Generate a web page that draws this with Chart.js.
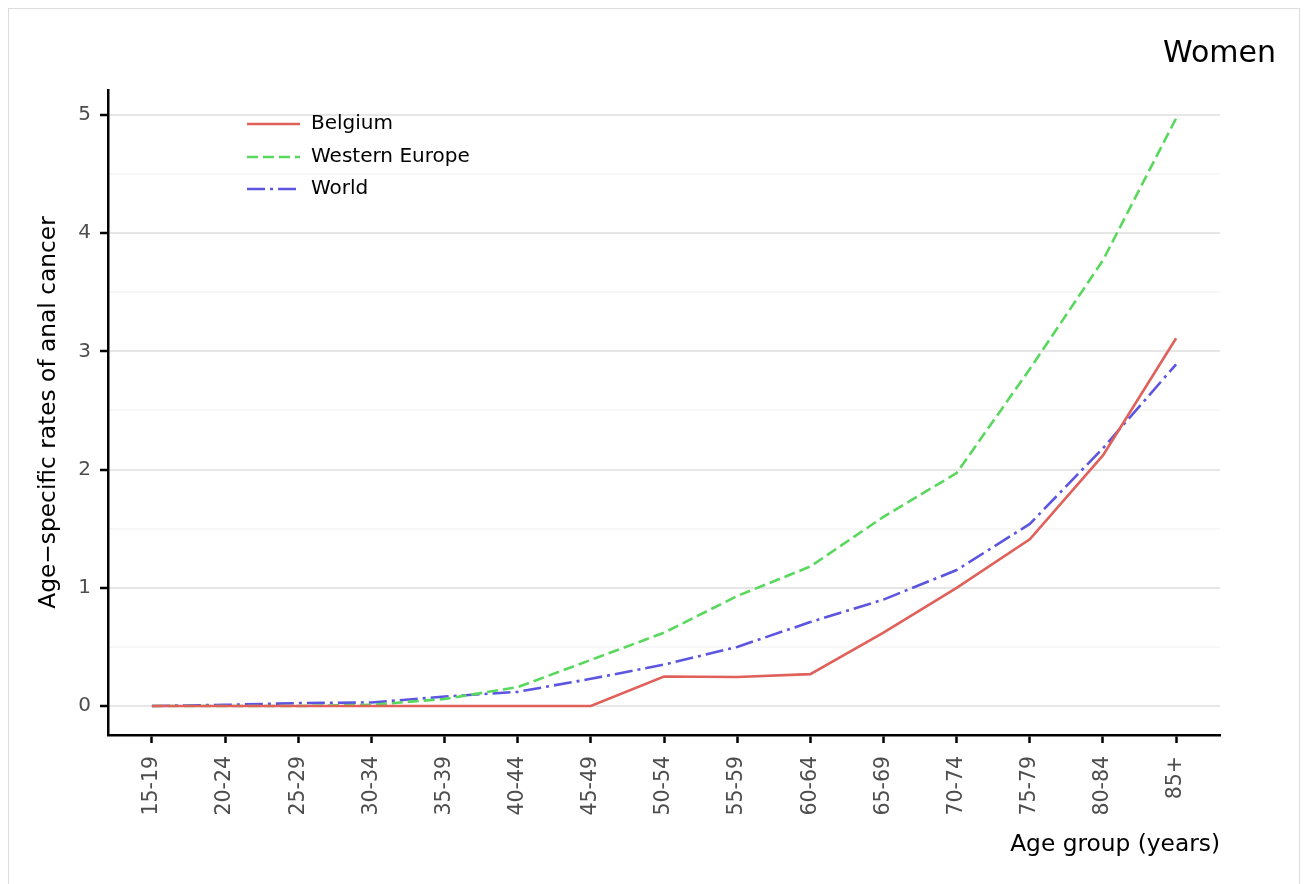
<!DOCTYPE html>
<html>
<head>
<meta charset="utf-8">
<script src="https://cdn.jsdelivr.net/npm/chart.js@4/dist/chart.umd.min.js"></script>
<style>
  html, body { margin: 0; padding: 0; background: #ffffff; }
  #wrap { position: relative; width: 1308px; height: 884px; }
  canvas { display: block; }
</style>
</head>
<body>
<div id="wrap"><canvas id="c" width="1308" height="884"></canvas></div>
<script>
// ---- data ----
const ageGroups = ["15-19","20-24","25-29","30-34","35-39","40-44","45-49","50-54","55-59","60-64","65-69","70-74","75-79","80-84","85+"];
const belgium = [0, 0, 0, 0, 0, 0, 0, 0.25, 0.245, 0.27, 0.62, 1.0, 1.41, 2.12, 3.11];
const westernEurope = [0, 0, 0, 0.01, 0.06, 0.16, 0.39, 0.62, 0.93, 1.18, 1.60, 1.97, 2.85, 3.77, 4.97];
const world = [0, 0.01, 0.025, 0.03, 0.08, 0.12, 0.23, 0.35, 0.50, 0.71, 0.90, 1.15, 1.54, 2.18, 2.89];
const yTicks = [0, 1, 2, 3, 4, 5];
const yMinor = [0.5, 1.5, 2.5, 3.5, 4.5];
const seriesNames = ["Belgium", "Western Europe", "World"];
const panelLabel = "Women";
const xTitle = "Age group (years)";
const yTitle = "Age\u2212specific rates of anal cancer";

const FONT = "'DejaVu Sans', sans-serif";
const colors = ["#e0605a", "#58d85c", "#5c55e0"];
const dashes = [[], [11, 5], [18, 5, 3, 5]];

const toPts = arr => arr.map((v, i) => ({ x: i, y: v }));
const seriesData = [belgium, westernEurope, world];

const datasets = seriesData.map((d, k) => ({
  label: seriesNames[k],
  data: toPts(d),
  borderColor: colors[k],
  backgroundColor: colors[k],
  borderWidth: 2.6,
  borderDash: dashes[k],
  pointRadius: 0,
  tension: 0,
  fill: false
}));

const decor = {
  id: 'decor',
  beforeDraw(chart) {
    const ctx = chart.ctx;
    ctx.save();
    ctx.strokeStyle = '#dcdcdc';
    ctx.lineWidth = 1;
    ctx.strokeRect(8.5, 8.5, 1291, 900);
    ctx.restore();
  },
  afterDraw(chart) {
    const ctx = chart.ctx;
    const area = chart.chartArea;
    ctx.save();
    // panel label
    ctx.fillStyle = '#000';
    ctx.font = "30px " + FONT;
    ctx.textAlign = 'right';
    ctx.textBaseline = 'middle';
    ctx.fillText(panelLabel, 1276, 54);
    // x title
    ctx.font = "23.3px " + FONT;
    ctx.textAlign = 'right';
    ctx.textBaseline = 'middle';
    ctx.fillText(xTitle, area.right, 845);
    // y title
    ctx.save();
    ctx.translate(49, (area.top + area.bottom) / 2);
    ctx.rotate(-Math.PI / 2);
    ctx.textAlign = 'center';
    ctx.textBaseline = 'middle';
    ctx.fillText(yTitle, 0, 0);
    ctx.restore();
    // legend
    const ys = [124, 157, 189];
    chart.data.datasets.forEach((ds, k) => {
      ctx.beginPath();
      ctx.setLineDash(ds.borderDash);
      ctx.strokeStyle = ds.borderColor;
      ctx.lineWidth = 2.6;
      ctx.moveTo(247, ys[k]);
      ctx.lineTo(300, ys[k]);
      ctx.stroke();
      ctx.setLineDash([]);
      ctx.fillStyle = '#000';
      ctx.font = "20px " + FONT;
      ctx.textAlign = 'left';
      ctx.textBaseline = 'middle';
      ctx.fillText(ds.label, 311, ys[k]);
    });
    ctx.restore();
  }
};

new Chart(document.getElementById('c'), {
  type: 'line',
  data: { datasets },
  options: {
    responsive: false,
    animation: false,
    devicePixelRatio: 1,
    layout: { padding: { left: 0, right: 88, top: 90, bottom: 0 } },
    plugins: { legend: { display: false }, tooltip: { enabled: false }, title: { display: false } },
    scales: {
      x: {
        type: 'linear',
        min: -0.6,
        max: 14.6,
        afterBuildTicks: s => { s.ticks = ageGroups.map((_, i) => ({ value: i })); },
        afterFit: s => { s.height = 884 - 735; },
        border: { display: true, color: '#000', width: 2.5 },
        grid: { drawOnChartArea: false, drawTicks: true, tickLength: 8, tickColor: '#000', tickWidth: 2.5 },
        ticks: {
          autoSkip: false,
          minRotation: 90,
          maxRotation: 90,
          padding: 13,
          color: '#4d4d4d',
          font: { family: FONT, size: 20.5 },
          callback: v => ageGroups[v]
        }
      },
      y: {
        type: 'linear',
        min: -0.245,
        max: 5.21,
        afterBuildTicks: s => {
          const all = yTicks.concat(yMinor).sort((a, b) => a - b);
          s.ticks = all.map(v => ({ value: v }));
        },
        afterFit: s => { s.width = 108; },
        border: { display: true, color: '#000', width: 2.5 },
        grid: {
          drawTicks: true,
          tickLength: 8,
          tickWidth: 2.5,
          tickColor: c => (yTicks.includes(c.tick.value) ? '#000' : 'rgba(0,0,0,0)'),
          color: c => (yTicks.includes(c.tick.value) ? '#e6e6e6' : '#f7f7f7'),
          lineWidth: 2
        },
        ticks: {
          autoSkip: false,
          padding: 9,
          color: '#4d4d4d',
          font: { family: FONT, size: 20 },
          callback: v => (yTicks.includes(v) ? String(v) : '')
        }
      }
    }
  },
  plugins: [decor]
});
</script>
</body>
</html>
